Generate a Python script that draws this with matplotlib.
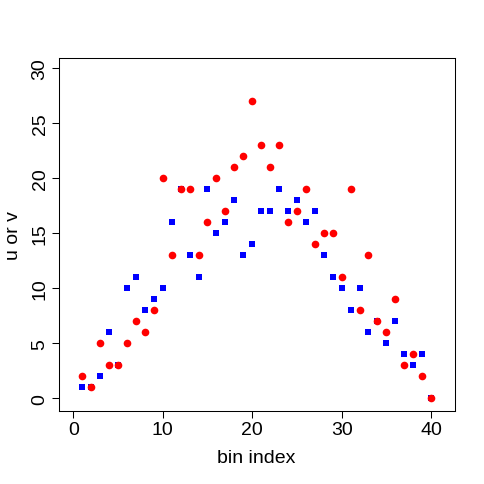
import numpy as np
import matplotlib
matplotlib.use("Agg")
import matplotlib.pyplot as plt

plt.rcParams['font.family'] = ['Liberation Sans', 'DejaVu Sans']

# données
bins = np.arange(1, 41)
u = [1, 1, 2, 6, 3, 10, 11, 8, 9, 10, 16, 19, 13, 11, 19, 15, 16, 18, 13, 14,
     17, 17, 19, 17, 18, 16, 17, 13, 11, 10, 8, 10, 6, 7, 5, 7, 4, 3, 4, 0]
v = [2, 1, 5, 3, 3, 5, 7, 6, 8, 20, 13, 19, 19, 13, 16, 20, 17, 21, 22, 27,
     23, 21, 23, 16, 17, 19, 14, 15, 15, 11, 19, 8, 13, 7, 6, 9, 3, 4, 2, 0]
xticks = [0, 10, 20, 30, 40]
yticks = [0, 5, 10, 15, 20, 25, 30]

fig = plt.figure(figsize=(4.85, 4.85), dpi=100)
ax = fig.add_axes([0.121, 0.151, 0.8165, 0.727])

ax.plot(bins, u, linestyle="none", marker="s", markersize=3.8,
        color="#0000FF", markeredgewidth=0)
ax.plot(bins, v, linestyle="none", marker="o", markersize=5.5,
        color="#FF0000", markeredgewidth=0)

ax.set_xlim(-1.64, 42.64)
ax.set_ylim(-1.15, 30.9)
ax.set_xticks(xticks)
ax.set_yticks(yticks)
ax.tick_params(length=5.2, width=0.75, labelsize=14, pad=2)
for lab in ax.get_yticklabels():
    lab.set_rotation(90)
    lab.set_va("center")
for s in ax.spines.values():
    s.set_linewidth(0.75)

ax.set_xlabel("bin index", fontsize=14, labelpad=8)
ax.set_ylabel("u or v", fontsize=14, labelpad=7)

fig.savefig("out.png", dpi=100)
